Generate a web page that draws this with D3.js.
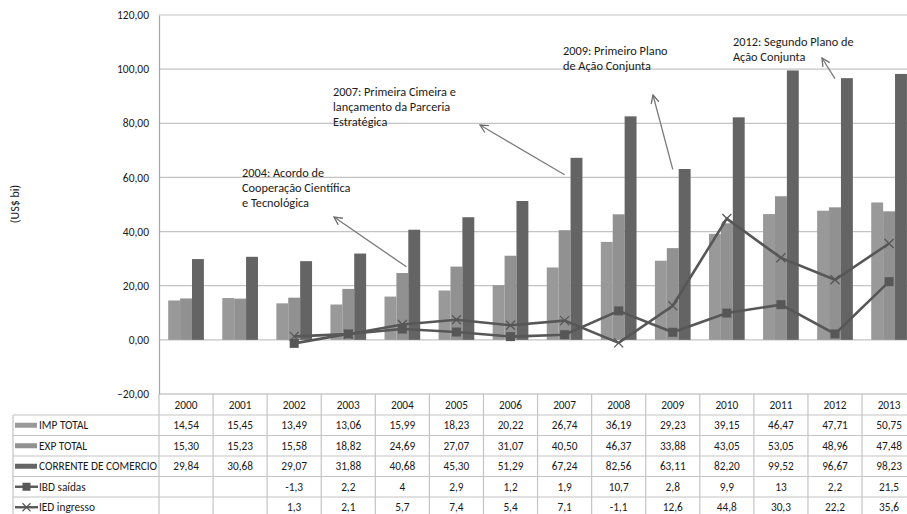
<!DOCTYPE html>
<html>
<head>
<meta charset="utf-8">
<script src="https://cdn.jsdelivr.net/npm/d3@7"></script>
<style>
  body { margin: 0; background: #fff; }
  text { font-family: Carlito, Calibri, "Liberation Sans Narrow", "Liberation Sans", sans-serif; fill: #1a1a1a; }
</style>
</head>
<body>
<div id="chart"></div>
<script>
// data
const years = ["2000","2001","2002","2003","2004","2005","2006","2007","2008","2009","2010","2011","2012","2013"];
const impTotal = [14.54,15.45,13.49,13.06,15.99,18.23,20.22,26.74,36.19,29.23,39.15,46.47,47.71,50.75];
const expTotal = [15.30,15.23,15.58,18.82,24.69,27.07,31.07,40.50,46.37,33.88,43.05,53.05,48.96,47.48];
const corrente = [29.84,30.68,29.07,31.88,40.68,45.30,51.29,67.24,82.56,63.11,82.20,99.52,96.67,98.23];
const ibdSaidas = [null,null,-1.3,2.2,4,2.9,1.2,1.9,10.7,2.8,9.9,13,2.2,21.5];
const iedIngresso = [null,null,1.3,2.1,5.7,7.4,5.4,7.1,-1.1,12.6,44.8,30.3,22.2,35.6];
const yTicks = [-20,0,20,40,60,80,100,120];

const barSeries = [
  { key: "IMP TOTAL", values: impTotal, color: "#999999" },
  { key: "EXP TOTAL", values: expTotal, color: "#919191" },
  { key: "CORRENTE DE COMERCIO", values: corrente, color: "#646464" }
];
const lineSeries = [
  { key: "IBD saídas", values: ibdSaidas, marker: "square" },
  { key: "IED ingresso", values: iedIngresso, marker: "x" }
];

// annotations: text lines, bar the arrow starts from, arrow head point
const notes = [
  { lines: ["2004: Acordo de", "Cooperação Científica", "e Tecnológica"], x: 242, y: 177, from: ["2004", 27], to: [334, 217] },
  { lines: ["2007: Primeira Cimeira e", "lançamento da Parceria", "Estratégica"], x: 333, y: 96, from: ["2007", 61], to: [480, 125] },
  { lines: ["2009: Primeiro Plano", "de Ação Conjunta"], x: 563, y: 55, from: ["2009", 63], to: [653, 95] },
  { lines: ["2012: Segundo Plano de", "Ação Conjunta"], x: 733, y: 46, from: ["2012", 96.5], to: [822, 58] }
];

const W = 907, H = 514;
const left = 159, colW = 54.08;
const fmt = d3.format(".2f");
const comma = s => s.replace(".", ",");

const svg = d3.select("#chart").append("svg")
  .attr("width", W).attr("height", H);

const x = d3.scaleBand().domain(years).range([left, left + colW * years.length]);
const y = d3.scaleLinear().domain([-20, 120]).range([394, 15]);
const barW = 11.9;
const x1 = d3.scaleBand().domain(barSeries.map(d => d.key)).range([0, barW * 3]);
const groupOff = (x.bandwidth() - barW * 3) / 2;

// gridlines
svg.append("g").selectAll("line").data(yTicks).join("line")
  .attr("x1", left).attr("x2", x.range()[1])
  .attr("y1", d => y(d)).attr("y2", d => y(d))
  .attr("stroke", d => d === -20 ? "#b0b0b0" : "#c4c4c4").attr("stroke-width", 1.2);

// y axis
const yAxis = d3.axisLeft(y).tickValues(yTicks).tickSize(0).tickPadding(10)
  .tickFormat(d => comma(fmt(d)));
const gy = svg.append("g").attr("transform", `translate(${left},0)`).call(yAxis);
gy.select(".domain").attr("stroke", "#a6a6a6").attr("stroke-width", 1.2);
gy.selectAll("text").style("font-size", "11.5px").style("font-family", null).attr("fill", "#1a1a1a");
gy.attr("font-family", null);

svg.append("text")
  .attr("transform", "translate(19,204) rotate(-90)")
  .attr("text-anchor", "middle")
  .style("font-size", "12px")
  .text("(US$ bi)");

// bars
barSeries.forEach(s => {
  svg.append("g").selectAll("rect").data(years).join("rect")
    .attr("x", d => x(d) + groupOff + x1(s.key))
    .attr("width", x1.bandwidth())
    .attr("y", (d, i) => y(s.values[i]))
    .attr("height", (d, i) => y(0) - y(s.values[i]))
    .attr("fill", s.color);
});

// lines
const lineGen = d3.line()
  .defined(d => d[1] !== null)
  .x(d => x(d[0]) + x.bandwidth() / 2)
  .y(d => y(d[1]));

lineSeries.forEach(s => {
  const pts = years.map((yr, i) => [yr, s.values[i]]);
  svg.append("path").datum(pts)
    .attr("d", lineGen)
    .attr("fill", "none")
    .attr("stroke", "#575757")
    .attr("stroke-width", 2.6);
  const g = svg.append("g");
  const valid = pts.filter(p => p[1] !== null);
  if (s.marker === "square") {
    g.selectAll("rect").data(valid).join("rect")
      .attr("x", d => x(d[0]) + x.bandwidth() / 2 - 4.5)
      .attr("y", d => y(d[1]) - 4.5)
      .attr("width", 9).attr("height", 9)
      .attr("fill", "#575757");
  } else {
    g.selectAll("path").data(valid).join("path")
      .attr("d", d => {
        const cx = x(d[0]) + x.bandwidth() / 2, cy = y(d[1]);
        return `M${cx-4.5},${cy-4.5}L${cx+4.5},${cy+4.5}M${cx-4.5},${cy+4.5}L${cx+4.5},${cy-4.5}`;
      })
      .attr("stroke", "#575757").attr("stroke-width", 1.3).attr("fill", "none");
  }
});

// annotations
svg.append("defs").append("marker").attr("id", "arr")
  .attr("viewBox", "0 0 10 10").attr("refX", 9).attr("refY", 5)
  .attr("markerWidth", 10).attr("markerHeight", 10).attr("markerUnits", "userSpaceOnUse")
  .attr("orient", "auto")
  .append("path").attr("d", "M1,1L9,5L1,9").attr("fill", "none").attr("stroke", "#6e6e6e").attr("stroke-width", 1.3);

notes.forEach(n => {
  const fx = x(n.from[0]) + x.bandwidth() / 2 + (n.from[0] === "2004" ? 4 : 0);
  svg.append("line")
    .attr("x1", fx).attr("y1", y(n.from[1]))
    .attr("x2", n.to[0]).attr("y2", n.to[1])
    .attr("stroke", "#7a7a7a").attr("stroke-width", 1.3)
    .attr("marker-end", "url(#arr)");
  n.lines.forEach((l, i) => {
    svg.append("text").attr("x", n.x).attr("y", n.y + i * 15)
      .style("font-size", "12.3px").text(l);
  });
});

// data table
const rowTop = 415, rowH = 20.5, headH = 21;
const tableRows = barSeries.map(s => ({ key: s.key, type: "bar", color: s.color, vals: s.values.map(v => comma(fmt(v))) }))
  .concat(lineSeries.map(s => ({ key: s.key, type: s.marker, vals: s.values.map(v => v === null ? "" : String(v).replace(".", ",")) })));
const tbl = svg.append("g");
const gridC = "#c4c4c4";

// column borders
tbl.selectAll(".vcol").data(d3.range(years.length + 1)).join("line")
  .attr("x1", i => left + i * colW).attr("x2", i => left + i * colW)
  .attr("y1", 394).attr("y2", H)
  .attr("stroke", gridC).attr("stroke-width", 1.2);
tbl.append("line").attr("x1", 13).attr("x2", 13).attr("y1", rowTop).attr("y2", H)
  .attr("stroke", gridC).attr("stroke-width", 1.2);
// row borders
tbl.selectAll(".hrow").data(d3.range(tableRows.length + 1)).join("line")
  .attr("x1", 13).attr("x2", x.range()[1])
  .attr("y1", i => rowTop + i * rowH).attr("y2", i => rowTop + i * rowH)
  .attr("stroke", gridC).attr("stroke-width", 1.2);

// header
tbl.selectAll(".yr").data(years).join("text")
  .attr("x", d => x(d) + x.bandwidth() / 2).attr("y", 394 + headH / 2 + 4)
  .attr("text-anchor", "middle").style("font-size", "11.3px")
  .text(d => d);

tableRows.forEach((r, ri) => {
  const cy = rowTop + ri * rowH + rowH / 2;
  if (r.type === "bar") {
    tbl.append("rect").attr("x", 15).attr("y", cy - 2.5).attr("width", 22).attr("height", 5).attr("fill", r.color);
  } else {
    tbl.append("line").attr("x1", 15).attr("x2", 38).attr("y1", cy).attr("y2", cy)
      .attr("stroke", "#575757").attr("stroke-width", 2.4);
    if (r.type === "square") {
      tbl.append("rect").attr("x", 22.5).attr("y", cy - 4).attr("width", 8).attr("height", 8).attr("fill", "#575757");
    } else {
      tbl.append("path").attr("d", `M${26.5-4},${cy-4}L${26.5+4},${cy+4}M${26.5-4},${cy+4}L${26.5+4},${cy-4}`)
        .attr("stroke", "#575757").attr("stroke-width", 1.2);
    }
  }
  tbl.append("text").attr("x", 39).attr("y", cy + 4).style("font-size", "11.3px").text(r.key);
  tbl.selectAll(null).data(r.vals).join("text")
    .attr("x", (d, i) => x(years[i]) + x.bandwidth() / 2).attr("y", cy + 4)
    .attr("text-anchor", "middle").style("font-size", "11.3px")
    .text(d => d);
});
</script>
</body>
</html>
